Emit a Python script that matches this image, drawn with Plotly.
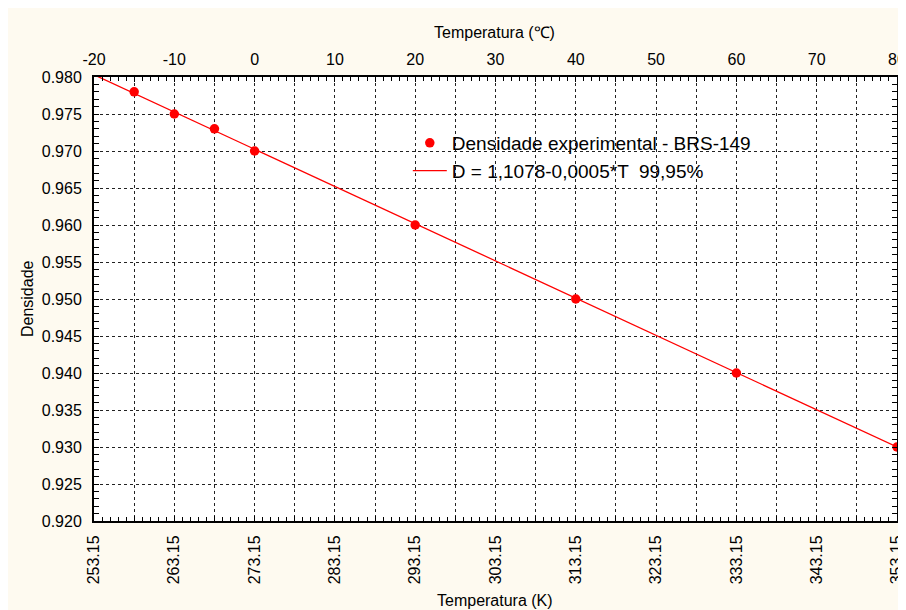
import plotly.graph_objects as go

# Data (temperature in K, density)
temp_k = [258.15, 263.15, 268.15, 273.15, 293.15, 313.15, 333.15, 353.15]
densidade = [0.978, 0.975, 0.973, 0.970, 0.960, 0.950, 0.940, 0.930]
fit_k = [253.15, 353.15]
fit_d = [0.9803, 0.9300]

k_ticks = [253.15 + 5 * i for i in range(21)]
k_labels = [f"{v:.2f}" if i % 2 == 0 else "" for i, v in enumerate(k_ticks)]
c_ticks = [-20, -10, 0, 10, 20, 30, 40, 50, 60, 70, 80]
c_labels = [str(v) for v in c_ticks]
y_ticks = [0.920 + 0.005 * i for i in range(13)]
y_labels = [f"{v:.3f}" for v in y_ticks]

FONT = "Liberation Sans, Arial, sans-serif"
OFF = 8  # page body margin
W, H = 906, 602
L, T, B = 94 - OFF, 77 - OFF, 610 - 521
R = W - (897.5 - OFF)
PW, PH = W - L - R, H - T - B

fig = go.Figure()
fig.add_trace(go.Scatter(
    x=temp_k, y=densidade, mode="markers",
    marker=dict(color="#ff0000", size=9.5),
    name="Densidade experimental - BRS-149",
))
fig.add_trace(go.Scatter(
    x=fit_k, y=fit_d, mode="lines",
    line=dict(color="#ff0000", width=1.3),
    name="D = 1,1078-0,0005*T  99,95%",
))
# invisible trace to activate top axis
fig.add_trace(go.Scatter(x=[-20, 80], y=[0.92, 0.92], xaxis="x2", mode="markers",
                         marker=dict(opacity=0), showlegend=False, hoverinfo="skip"))

grid = dict(showgrid=True, gridcolor="#222222", griddash="dot", gridwidth=1)

def px_x(p):  # page pixel -> paper fraction
    return (p - OFF - L) / PW

def px_y(p):
    return (H - B - (p - OFF)) / PH

fig.update_layout(
    width=W, height=H,
    margin=dict(l=L, r=R, t=T, b=B),
    paper_bgcolor="#fefaf0",
    plot_bgcolor="white",
    font=dict(family=FONT, size=16, color="black"),
    showlegend=True,
    legend=dict(x=px_x(408), y=px_y(124), xanchor="left", yanchor="top",
                bgcolor="rgba(0,0,0,0)", font=dict(size=19), tracegroupgap=0,
                itemwidth=34),
    xaxis=dict(
        range=[253.15, 353.15], tickvals=k_ticks, ticktext=k_labels,
        tickangle=-90, ticks="inside", ticklen=5, tickcolor="black",
        showline=True, linecolor="black", linewidth=2, mirror="allticks",
        minor=dict(dtick=1, tick0=253.15, ticks="inside", ticklen=4, tickcolor="black", showgrid=False),
        ticklabelstandoff=6, automargin=False, ticklabeloverflow="allow",
        zeroline=False, **grid,
    ),
    xaxis2=dict(
        range=[-20, 80], overlaying="x", side="top", tickvals=c_ticks, ticktext=c_labels,
        ticks="", showgrid=False, zeroline=False, showline=False,
        ticklabelstandoff=8, automargin=False, ticklabeloverflow="allow",
    ),
    yaxis=dict(
        range=[0.92, 0.98], tickvals=y_ticks, ticktext=y_labels,
        ticks="inside", ticklen=5, tickcolor="black",
        showline=True, linecolor="black", linewidth=2, mirror="allticks",
        minor=dict(dtick=0.001, tick0=0.92, ticks="inside", ticklen=4, tickcolor="black", showgrid=False),
        ticklabelstandoff=7, automargin=False, ticklabeloverflow="allow",
        zeroline=False, **grid,
    ),
    annotations=[
        dict(text="Temperatura (K)", xref="paper", yref="paper", x=px_x(495), y=px_y(600),
             showarrow=False, xanchor="center", yanchor="middle", font=dict(size=16)),
        dict(text="Temperatura (℃)", xref="paper", yref="paper", x=px_x(495), y=px_y(33),
             showarrow=False, xanchor="center", yanchor="middle", font=dict(size=16)),
        dict(text="Densidade", xref="paper", yref="paper", x=px_x(27), y=px_y(299),
             showarrow=False, xanchor="center", yanchor="middle", textangle=-90, font=dict(size=16)),
    ],
)

fig.write_html("out.html")
